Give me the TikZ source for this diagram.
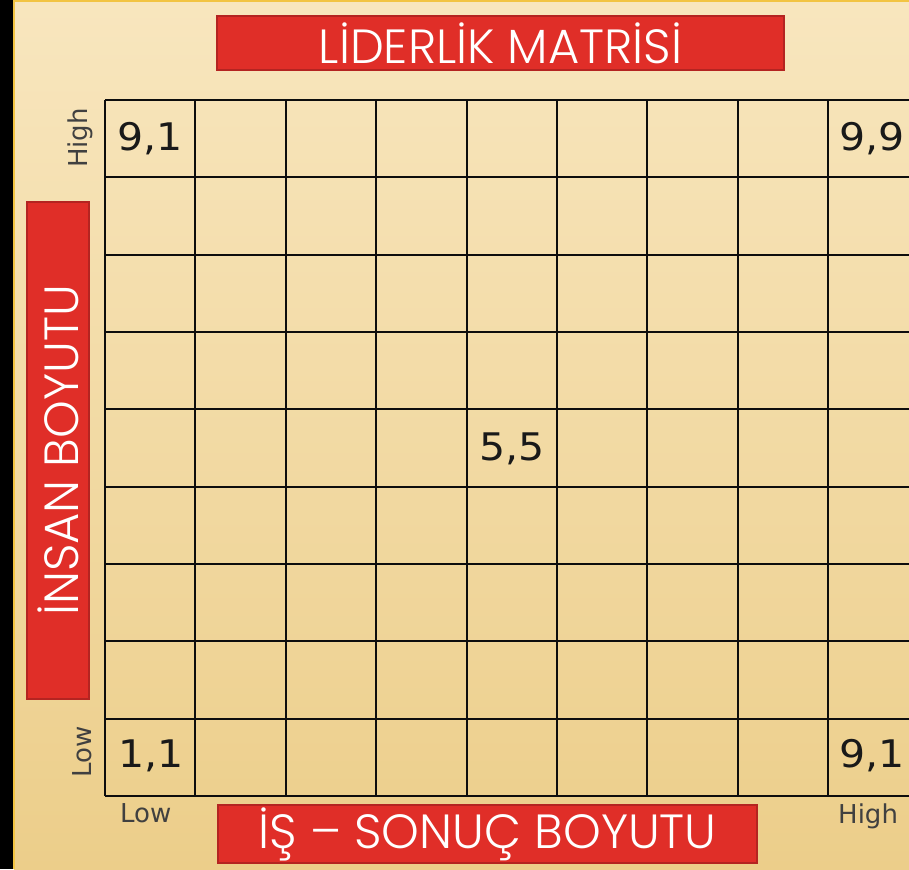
\documentclass[tikz,border=0pt]{standalone}
\usepackage{fontspec}
\setmainfont{DejaVu Sans}
\newfontfamily\boxfont{Poppins Light}
\usetikzlibrary{positioning}
\definecolor{boxred}{HTML}{E02E28}
\definecolor{boxedge}{HTML}{B42421}
\definecolor{bgtop}{HTML}{F8E6BE}
\definecolor{bgbot}{HTML}{ECCE8A}
\definecolor{rimyellow}{HTML}{F2C443}

\begin{document}
\begin{tikzpicture}[x=1pt, y=-1pt,
    redbox/.style={rectangle, draw=boxedge, line width=1.5pt, fill=boxred, text=white,
                   inner sep=0pt, font=\boxfont\fontsize{48}{52}\selectfont},
    gridline/.style={line width=2pt, draw=black!95},
    cellnum/.style={anchor=base west, inner sep=0pt, font=\fontsize{38}{40}\selectfont, text=black!90},
    axislabel/.style={inner sep=0pt, font=\fontsize{26}{28}\selectfont, text=black!75},
  ]
    \useasboundingbox (0,0) rectangle (909,869);
    \clip (0,0) rectangle (909,869);

    % Background
    \fill[black] (0,0) rectangle (14,869);
    \fill[top color=bgtop, bottom color=bgbot] (14,0) rectangle (909,869);
    \draw[rimyellow, line width=2pt] (14,0) -- (14,869);
    \draw[rimyellow, line width=2pt] (14,1) -- (909,1);

    % Grid (9 x 9)
    \foreach \i in {0,...,9} {
      \draw[gridline] ({105+90.4*\i},100) -- ({105+90.4*\i},796);
      \draw[gridline] (105,{100+77.33*\i}) -- (920,{100+77.33*\i});
    }

    % Cell values
    \node[cellnum] (c91) at (117,150) {\scalebox{1.08}[1]{9,1}};
    \node[cellnum] (c99) at (839,150) {\scalebox{1.08}[1]{9,9}};
    \node[cellnum] (c55) at (479,460) {\scalebox{1.08}[1]{5,5}};
    \node[cellnum] (c11) at (118,767) {\scalebox{1.08}[1]{1,1}};
    \node[cellnum] (c19) at (839,767) {\scalebox{1.08}[1]{9,1}};

    % Axis ends
    \node[axislabel, rotate=90] (yhigh) at (80,138) {High};
    \node[axislabel, rotate=90] (ylow) at (82,752) {Low};
    \node[axislabel, anchor=base west] (xlow) at (120,822) {Low};
    \node[axislabel, anchor=base west] (xhigh) at (838,823) {High};

    % Titles
    \node[redbox, minimum width=567pt, minimum height=54pt] (title) at (500.5,43) {LİDERLİK MATRİSİ};
    \node[redbox, minimum width=539pt, minimum height=58pt] (isaxis) at (487.5,834) {İŞ – SONUÇ BOYUTU};
    \node[redbox, rotate=90, minimum width=497pt, minimum height=62pt] (insanaxis) at (58,450.5) {İNSAN BOYUTU};
  \end{tikzpicture}
\end{document}
